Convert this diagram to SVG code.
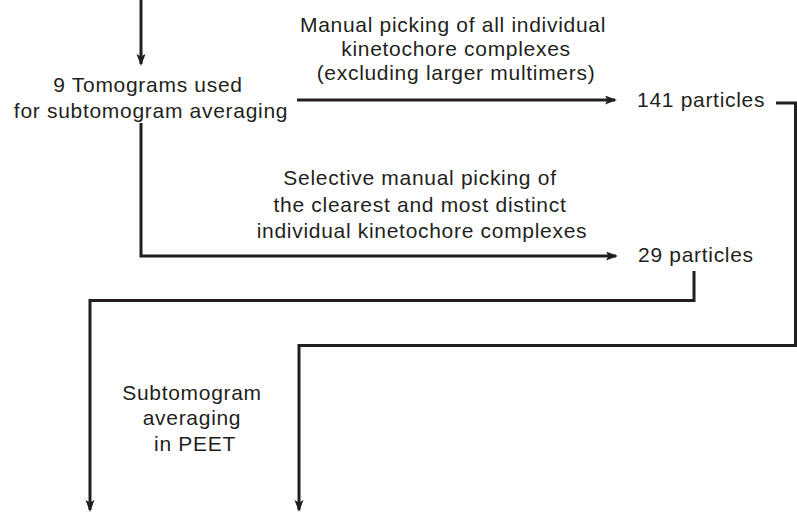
<svg xmlns="http://www.w3.org/2000/svg" width="797" height="512" viewBox="0 0 797 512">
  <defs>
    <style>
      .t { font-family: "Liberation Sans", Arial, Helvetica, sans-serif; font-size: 21px; fill: #231f20; letter-spacing: 0.7px; }
      .m { text-anchor: middle; }
      .c { fill: none; stroke: #231f20; stroke-width: 3; stroke-linejoin: miter; stroke-linecap: butt; }
    </style>
    <marker id="arr" markerUnits="userSpaceOnUse" markerWidth="14" markerHeight="10" refX="10" refY="4.5" orient="auto">
      <path d="M0,0 L12,4.5 L0,9 L2.5,4.5 Z" fill="#231f20"/>
    </marker>
  </defs>
  <rect width="797" height="512" fill="#ffffff"/>

  <g id="connectors">
    <path class="c" d="M141,0 V64" marker-end="url(#arr)"/>
    <path class="c" d="M297,100 H615" marker-end="url(#arr)"/>
    <path class="c" d="M141,123 V256 H616" marker-end="url(#arr)"/>
    <path class="c" d="M776,103 H795.5 V345.5 H299 V510" marker-end="url(#arr)"/>
    <path class="c" d="M694,271 V300.5 H90 V510" marker-end="url(#arr)"/>
  </g>

  <g id="tomograms">
    <text class="t m" x="148" y="92">9 Tomograms used</text>
    <text class="t m" x="151" y="118">for subtomogram averaging</text>
  </g>

  <g id="label-manual">
    <text class="t m" x="453" y="32">Manual picking of all individual</text>
    <text class="t m" x="456" y="56">kinetochore complexes</text>
    <text class="t m" x="456" y="80">(excluding larger multimers)</text>
  </g>

  <g id="particles141">
    <text class="t" x="637" y="107">141 particles</text>
  </g>

  <g id="label-selective">
    <text class="t m" x="420" y="185">Selective manual picking of</text>
    <text class="t m" x="420" y="212">the clearest and most distinct</text>
    <text class="t m" x="422" y="238">individual kinetochore complexes</text>
  </g>

  <g id="particles29">
    <text class="t" x="638" y="262">29 particles</text>
  </g>

  <g id="label-peet">
    <text class="t m" x="192" y="400">Subtomogram</text>
    <text class="t m" x="192" y="425">averaging</text>
    <text class="t m" x="195" y="451">in PEET</text>
  </g>
</svg>
